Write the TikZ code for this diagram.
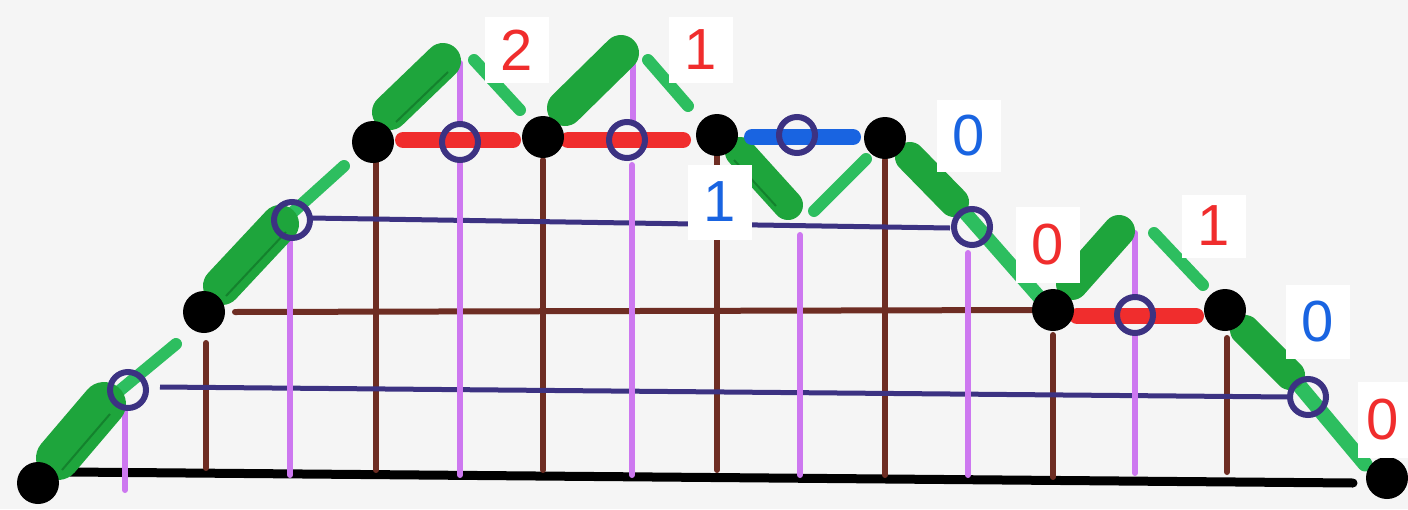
\documentclass[tikz,border=0pt]{standalone}
\usepackage{fontspec}
\setmainfont{Liberation Sans}
\definecolor{paper}{RGB}{245,245,245}
\definecolor{mkgreen}{RGB}{30,165,60}
\definecolor{mkgreend}{RGB}{20,130,45}
\definecolor{mkgreenl}{RGB}{45,190,95}
\definecolor{mkred}{RGB}{240,45,45}
\definecolor{mkblue}{RGB}{25,100,225}
\definecolor{mknavy}{RGB}{60,50,130}
\definecolor{mkviolet}{RGB}{205,120,240}
\definecolor{mkbrown}{RGB}{110,45,35}
\tikzset{
  dot/.style={circle,fill=black,inner sep=0pt,minimum size=42pt},
  ring/.style={circle,draw=mknavy,line width=6pt,inner sep=0pt,minimum size=36pt},
  lab/.style={fill=white,inner sep=0pt,minimum width=64pt,minimum height=66pt,font=\fontsize{58}{60}\selectfont},
  thickg/.style={draw=mkgreen,line width=36pt,line cap=round},
  seam/.style={draw=mkgreend,line width=2pt},
  thing/.style={draw=mkgreenl,line width=12pt,line cap=round},
  brownl/.style={draw=mkbrown,line width=6pt,line cap=round},
  navyl/.style={draw=mknavy,line width=5pt},
  violetl/.style={draw=mkviolet,line width=6pt,line cap=round},
  redseg/.style={draw=mkred,line width=16pt,line cap=round},
  blueseg/.style={draw=mkblue,line width=16pt,line cap=round}
}
\begin{document}
\begin{tikzpicture}[x=1pt,y=-1pt]
\useasboundingbox (0,0) rectangle (1408,509);
\fill[paper] (0,0) rectangle (1408,509);
% lattice points
\coordinate (p0) at (38,483);
\coordinate (p1) at (204,312);
\coordinate (p2) at (373,142);
\coordinate (p3) at (543,137);
\coordinate (p4) at (717,135);
\coordinate (p5) at (885,138);
\coordinate (p6) at (1053,310);
\coordinate (p7) at (1225,310);
\coordinate (p8) at (1387,478);
% base line
\draw[black,line width=9pt,line cap=round] (70,472) -- (1353,483);
% brown verticals and horizontal
\draw[brownl] (206,343) -- (206,468);
\draw[brownl] (376,162) -- (376,470);
\draw[brownl] (543,160) -- (543,470);
\draw[brownl] (717,152) -- (717,470);
\draw[brownl] (885,160) -- (885,475);
\draw[brownl] (1053,335) -- (1053,477);
\draw[brownl] (1227,338) -- (1227,472);
\draw[brownl] (235,312) -- (1040,310);
% navy horizontals
\draw[navyl] (160,387) -- (1290,397);
\draw[navyl] (310,218) -- (950,228);
% violet verticals
\draw[violetl] (125,410) -- (125,490);
\draw[violetl] (290,240) -- (290,475);
\draw[violetl] (460,63) -- (460,122);
\draw[violetl] (460,163) -- (460,475);
\draw[violetl] (633,65) -- (633,122);
\draw[violetl] (632,165) -- (632,475);
\draw[violetl] (800,235) -- (800,475);
\draw[violetl] (968,253) -- (968,475);
\draw[violetl] (1135,233) -- (1135,297);
\draw[violetl] (1135,335) -- (1135,473);
% green path strokes
\draw[thing] (106,402) -- (176,344);
\draw[thickg,line width=44pt] (58,458) -- (104,404);
\draw[seam] (62,470) -- (110,414);
\draw[thing] (282,222) -- (344,166);
\draw[thickg,line width=38pt] (222,286) -- (280,224);
\draw[seam] (226,296) -- (286,232);
\draw[thickg] (390,112) -- (443,61);
\draw[seam] (396,122) -- (448,72);
\draw[thickg] (565,108) -- (621,53);
\draw[thing] (474,60) -- (520,110);
\draw[thing] (648,60) -- (688,106);
\draw[thickg,line width=30pt] (740,152) -- (788,205);
\draw[seam] (734,160) -- (776,206);
\draw[thing] (814,211) -- (866,159);
\draw[thing,line width=14pt] (960,207) -- (1040,298);
\draw[thickg,line width=30pt] (910,157) -- (954,202);
\draw[thickg,line width=32pt] (1072,284) -- (1119,231);
\draw[thing] (1154,233) -- (1203,285);
\draw[thing,line width=15pt] (1293,378) -- (1365,464);
\draw[thickg,line width=30pt] (1245,330) -- (1290,375);
% red / blue horizontal steps
\draw[redseg] (403,140) -- (513,140);
\draw[redseg] (568,140) -- (683,140);
\draw[redseg] (1077,316) -- (1196,316);
\draw[blueseg] (752,137) -- (853,137);
% rings
\node[ring] (c1) at (128,390) {};
\node[ring] (c2) at (292,220) {};
\node[ring] (c3) at (460,142) {};
\node[ring] (c4) at (627,140) {};
\node[ring] (c5) at (797,135) {};
\node[ring] (c6) at (972,227) {};
\node[ring] (c7) at (1135,315) {};
\node[ring] (c8) at (1308,397) {};
% dots
\node[dot] (d0) at (p0) {};
\node[dot] (d1) at (p1) {};
\node[dot] (d2) at (p2) {};
\node[dot] (d3) at (p3) {};
\node[dot] (d4) at (p4) {};
\node[dot] (d5) at (p5) {};
\node[dot] (d6) at (p6) {};
\node[dot] (d7) at (p7) {};
\node[dot] (d8) at (p8) {};
% labels
\node[lab,text=mkred] (l1) at (517,50) {2};
\node[lab,text=mkred] (l2) at (701,50) {1};
\node[lab,text=mkblue,minimum height=72pt] (l3) at (969,136) {0};
\node[lab,text=mkblue,minimum height=75pt] (l4) at (720,202) {1};
\node[lab,text=mkred,minimum height=76pt] (l5) at (1048,245) {0};
\node[lab,text=mkred,minimum height=63pt] (l6) at (1214,226) {1};
\node[lab,text=mkblue,minimum height=74pt] (l7) at (1318,322) {0};
\node[lab,text=mkred,minimum width=50pt,minimum height=76pt] (l8) at (1383,420) {0};
\end{tikzpicture}
\end{document}
